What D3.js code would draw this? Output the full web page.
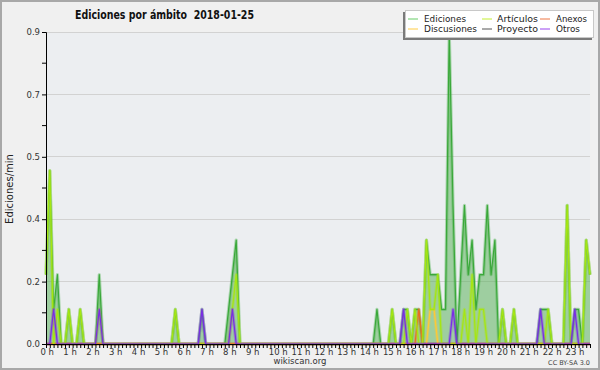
<!DOCTYPE html>
<html><head><meta charset="utf-8">
<script src="https://cdn.jsdelivr.net/npm/d3@7"></script>
<style>body{margin:0;background:#f0f0f0}svg{display:block}</style>
</head><body><svg id="c" width="600" height="370"></svg>
<script>
// ---- data (10-minute bins, edits per minute) ----
const hourLabels = ["0 h","1 h","2 h","3 h","4 h","5 h","6 h","7 h","8 h","9 h","10 h","11 h","12 h","13 h","14 h","15 h","16 h","17 h","18 h","19 h","20 h","21 h","22 h","23 h"];
const yTickValues = [0, 0.18, 0.36, 0.54, 0.72, 0.9];
const yTickLabels = ["0.0","0.2","0.4","0.5","0.7","0.9"];
const seriesNames = ["Ediciones","Artículos","Anexos","Discusiones","Proyecto","Otros"];
const seriesColors = ["#3aa83a","#a6e612","#ee6a22","#ffc933","#555555","#7a2be6"];
const legendColors = ["#66cc66","#c4ee33","#ee7744","#ffcc44","#555555","#9944ee"];

const ediciones = [
 0.2,0.5,0.1,0.2,0,0,0.1,0,0,0.1,0,0,
 0,0,0.2,0,0,0,0,0,0,0,0,0,
 0,0,0,0,0,0,0,0,0,0,0.1,0,
 0,0,0,0,0,0.1,0,0,0,0,0,0,
 0.1,0.2,0.3,0,0,0,0,0,0,0,0,0,
 0,0,0,0,0,0,0,0,0,0,0,0,
 0,0,0,0,0,0,0,0,0,0,0,0,
 0,0,0,0.1,0,0,0,0.1,0,0,0.1,0.1,
 0,0.1,0.1,0,0.3,0.2,0.2,0.2,0.1,0.1,0.9,0.4,
 0,0.2,0.4,0.2,0.3,0.1,0.2,0.2,0.4,0.2,0.3,0,
 0.1,0,0,0.1,0,0,0,0,0,0,0.1,0.1,
 0.1,0,0,0,0,0.4,0,0.1,0.1,0,0.3,0.2
];
const articulos = [
 0.2,0.5,0,0.1,0,0,0.1,0,0,0.1,0,0,
 0,0,0.1,0,0,0,0,0,0,0,0,0,
 0,0,0,0,0,0,0,0,0,0,0.1,0,
 0,0,0,0,0,0,0,0,0,0,0,0,
 0,0.1,0.2,0,0,0,0,0,0,0,0,0,
 0,0,0,0,0,0,0,0,0,0,0,0,
 0,0,0,0,0,0,0,0,0,0,0,0,
 0,0,0,0,0,0,0,0.1,0,0,0,0.1,
 0,0.1,0,0,0.3,0.1,0.1,0.2,0,0,0,0,
 0,0,0.1,0,0.2,0,0.1,0.1,0,0,0,0,
 0.1,0,0,0.1,0,0,0,0,0,0,0,0,
 0.1,0,0,0,0,0.4,0,0,0,0,0.3,0.2
];
const anexos = [
 0,0,0,0,0,0,0,0,0,0,0,0,
 0,0,0,0,0,0,0,0,0,0,0,0,
 0,0,0,0,0,0,0,0,0,0,0,0,
 0,0,0,0,0,0,0,0,0,0,0,0,
 0,0,0,0,0,0,0,0,0,0,0,0,
 0,0,0,0,0,0,0,0,0,0,0,0,
 0,0,0,0,0,0,0,0,0,0,0,0,
 0,0,0,0,0,0,0,0,0,0,0,0,
 0,0,0.1,0,0,0,0,0,0,0,0,0,
 0,0,0,0,0,0,0,0,0,0,0,0,
 0,0,0,0,0,0,0,0,0,0,0,0,
 0,0,0,0,0,0,0,0,0,0,0,0
];
const discusiones = [
 0,0,0,0,0,0,0,0,0,0,0,0,
 0,0,0,0,0,0,0,0,0,0,0,0,
 0,0,0,0,0,0,0,0,0,0,0,0,
 0,0,0,0,0,0,0,0,0,0,0,0,
 0,0,0,0,0,0,0,0,0,0,0,0,
 0,0,0,0,0,0,0,0,0,0,0,0,
 0,0,0,0,0,0,0,0,0,0,0,0,
 0,0,0,0,0,0,0,0,0,0,0,0,
 0,0,0,0,0,0.1,0.1,0,0,0,0,0,
 0,0,0,0,0,0,0,0,0,0,0,0,
 0,0,0,0,0,0,0,0,0,0,0,0,
 0,0,0,0,0,0,0,0,0,0,0,0
];
const proyecto = [
 0,0,0,0,0,0,0,0,0,0,0,0,
 0,0,0,0,0,0,0,0,0,0,0,0,
 0,0,0,0,0,0,0,0,0,0,0,0,
 0,0,0,0,0,0,0,0,0,0,0,0,
 0,0,0,0,0,0,0,0,0,0,0,0,
 0,0,0,0,0,0,0,0,0,0,0,0,
 0,0,0,0,0,0,0,0,0,0,0,0,
 0,0,0,0,0,0,0,0,0,0,0,0,
 0,0,0,0,0,0,0,0,0,0,0,0,
 0,0,0,0,0,0,0,0,0,0,0,0,
 0,0,0,0,0,0,0,0,0,0,0,0,
 0,0,0,0,0,0,0,0,0,0,0,0
];
const otros = [
 0,0,0.1,0,0,0,0,0,0,0,0,0,
 0,0,0.1,0,0,0,0,0,0,0,0,0,
 0,0,0,0,0,0,0,0,0,0,0,0,
 0,0,0,0,0,0.1,0,0,0,0,0,0,
 0,0.1,0,0,0,0,0,0,0,0,0,0,
 0,0,0,0,0,0,0,0,0,0,0,0,
 0,0,0,0,0,0,0,0,0,0,0,0,
 0,0,0,0,0,0,0,0,0,0,0.1,0,
 0,0,0,0,0,0,0,0,0,0,0,0.1,
 0,0,0,0,0,0,0,0,0,0,0,0,
 0,0,0,0,0,0,0,0,0,0,0.1,0,
 0,0,0,0,0,0,0,0.1,0,0,0,0
];

// ---- drawing ----
const W = 600, H = 370;
const m = {left:46, right:10, top:32, bottom:26};
const svg = d3.select("#c");
const font = "'DejaVu Sans',sans-serif";

svg.append("rect").attr("x",1).attr("y",1).attr("width",W-2).attr("height",H-2)
  .attr("fill","#f0f0f0").attr("stroke","#a8a8a8").attr("stroke-width",2);

const x = d3.scaleLinear().domain([0, ediciones.length - 1]).range([m.left, W - m.right]);
const y = d3.scaleLinear().domain([0, 0.9]).range([H - m.bottom, m.top]);

// plot background
svg.append("rect").attr("x",m.left).attr("y",m.top).attr("width",x.range()[1]-m.left)
  .attr("height",y(0)-m.top).attr("fill","#eceef1");

// grid
svg.append("g").selectAll("line").data(yTickValues.slice(1)).join("line")
  .attr("x1",m.left).attr("x2",x.range()[1]).attr("y1",d=>y(d)).attr("y2",d=>y(d))
  .attr("stroke","#d2d2d2").attr("stroke-width",1).attr("shape-rendering","crispEdges");

// area
const idx = d3.range(ediciones.length);
const area = d3.area().x(i=>x(i)).y0(y(0)).y1(i=>y(ediciones[i]));
svg.append("path").datum(idx).attr("d",area).attr("fill","#57b057").attr("fill-opacity",0.52);

function drawLine(arr, color){
  const line = d3.line().x(i=>x(i)).y(i=>y(arr[i]));
  svg.append("path").datum(idx).attr("d",line).attr("fill","none")
    .attr("stroke",color).attr("stroke-width",3.2).attr("stroke-opacity",0.35).attr("stroke-linejoin","round");
  svg.append("path").datum(idx).attr("d",line).attr("fill","none")
    .attr("stroke",color).attr("stroke-width",1.2).attr("stroke-linejoin","round");
}
drawLine(ediciones, seriesColors[0]);
drawLine(proyecto, seriesColors[4]);
drawLine(discusiones, seriesColors[3]);
drawLine(anexos, seriesColors[2]);
drawLine(articulos, seriesColors[1]);
drawLine(otros, seriesColors[5]);

// y axis
const yAxis = d3.axisLeft(y).tickValues(yTickValues).tickSize(4).tickFormat((d,i)=>yTickLabels[i]);
const gy = svg.append("g").attr("transform",`translate(${m.left},0)`).call(yAxis);
gy.select(".domain").attr("stroke","#000");
gy.selectAll("text").attr("font-family",font).attr("font-size",8.5).attr("fill","#333").attr("dx",1);
const minorY = d3.range(yTickValues.length-1).map(i=>(yTickValues[i]+yTickValues[i+1])/2);
gy.append("g").selectAll("line").data(minorY).join("line")
  .attr("x1",-4).attr("x2",0).attr("y1",d=>y(d)).attr("y2",d=>y(d)).attr("stroke","#000");

// x axis
const xAxis = d3.axisBottom(x).tickValues(idx).tickSize(4).tickFormat("");
const gx = svg.append("g").attr("transform",`translate(0,${y(0)})`).call(xAxis);
gx.select(".domain").attr("stroke","#000");
gx.selectAll(".tick line").attr("stroke","#000");
svg.append("g").selectAll("text").data(hourLabels).join("text")
  .attr("x",(d,i)=>x(i*6)-5.5).attr("y",y(0)+10.5)
  .attr("font-family",font).attr("font-size",8.5).attr("fill","#333").text(d=>d);

// title
svg.append("text").attr("x",75).attr("y",19).attr("font-family",font).attr("font-weight","bold")
  .attr("font-size",12.5).attr("fill","#111")
  .attr("textLength",179).attr("lengthAdjust","spacingAndGlyphs")
  .text("Ediciones por ámbito\u00a0\u00a02018-01-25");

// y label
svg.append("text").attr("transform","translate(13,189) rotate(-90)").attr("text-anchor","middle")
  .attr("font-family",font).attr("font-size",10).attr("fill","#222").text("Ediciones/min");

// footer
svg.append("text").attr("x",300).attr("y",364).attr("text-anchor","middle")
  .attr("font-family",font).attr("font-size",8.5).attr("fill","#333").text("wikiscan.org");
svg.append("text").attr("x",590).attr("y",365).attr("text-anchor","end")
  .attr("font-family",font).attr("font-size",6.5).attr("fill","#444").text("CC BY-SA 3.0");

// legend
const lg = svg.append("g");
lg.append("rect").attr("x",403).attr("y",12).attr("width",189).attr("height",28).attr("fill","#7a7a7a");
lg.append("rect").attr("x",405.5).attr("y",10.5).attr("width",188).attr("height",27)
  .attr("fill","#fff").attr("stroke","#c8c8c8");
const colX = [408, 482, 540];
const textX = [424, 497, 556];
const rowY = [19, 29];
const legendTextW = [42, 41, 31, 53, 41, 24];
const order = [[0,0],[1,0],[2,0],[0,1],[1,1],[2,1]];
seriesNames.forEach((name,k)=>{
  const [c,r] = order[k];
  lg.append("line").attr("x1",colX[c]).attr("x2",colX[c]+10).attr("y1",rowY[r]).attr("y2",rowY[r])
    .attr("stroke",legendColors[k]).attr("stroke-width",1);
  lg.append("text").attr("x",textX[c]).attr("y",rowY[r]+3.2).attr("font-family",font)
    .attr("font-size",9).attr("fill","#222")
    .attr("textLength",legendTextW[k]).attr("lengthAdjust","spacingAndGlyphs").text(name);
});
</script></body></html>
